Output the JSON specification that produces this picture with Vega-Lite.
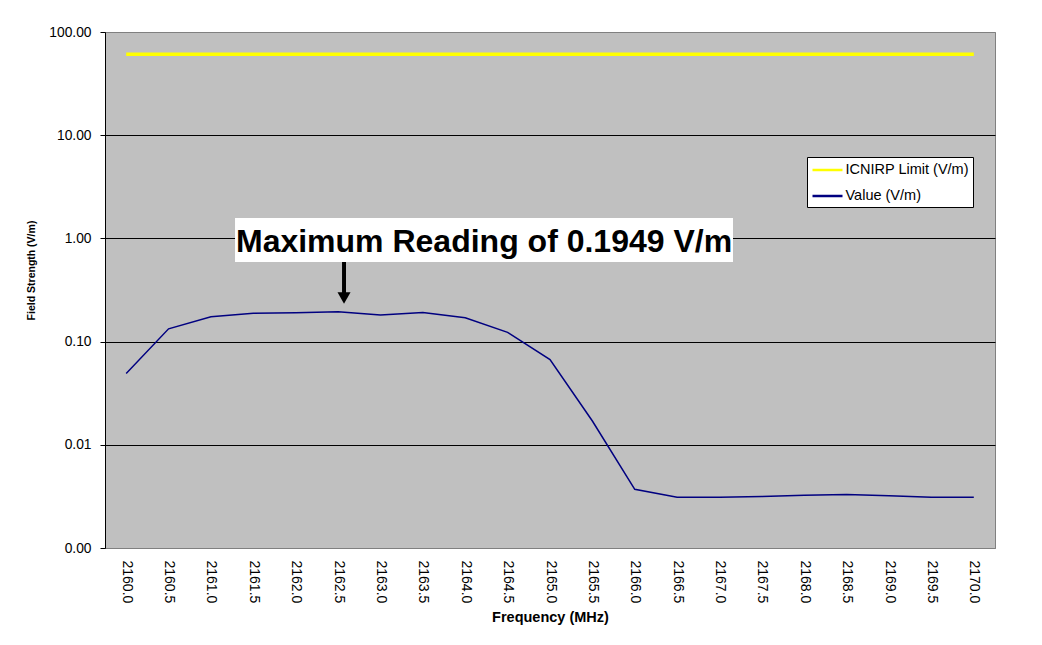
{
  "$schema": "https://vega.github.io/schema/vega-lite/v6.json",
  "width": 890,
  "height": 516,
  "autosize": {"type": "none"},
  "padding": {"left": 105, "top": 32, "right": 47, "bottom": 97},
  "background": "white",
  "config": {
    "view": {"fill": "#C0C0C0", "stroke": "#808080", "strokeWidth": 1},
    "font": "Liberation Sans"
  },
  "data": {
    "values": [
      {"freq": 2160.0, "value": 0.049, "limit": 61},
      {"freq": 2160.5, "value": 0.133, "limit": 61},
      {"freq": 2161.0, "value": 0.174, "limit": 61},
      {"freq": 2161.5, "value": 0.188, "limit": 61},
      {"freq": 2162.0, "value": 0.190, "limit": 61},
      {"freq": 2162.5, "value": 0.1949, "limit": 61},
      {"freq": 2163.0, "value": 0.181, "limit": 61},
      {"freq": 2163.5, "value": 0.191, "limit": 61},
      {"freq": 2164.0, "value": 0.170, "limit": 61},
      {"freq": 2164.5, "value": 0.123, "limit": 61},
      {"freq": 2165.0, "value": 0.067, "limit": 61},
      {"freq": 2165.5, "value": 0.017, "limit": 61},
      {"freq": 2166.0, "value": 0.0037, "limit": 61},
      {"freq": 2166.5, "value": 0.0031, "limit": 61},
      {"freq": 2167.0, "value": 0.0031, "limit": 61},
      {"freq": 2167.5, "value": 0.00315, "limit": 61},
      {"freq": 2168.0, "value": 0.00325, "limit": 61},
      {"freq": 2168.5, "value": 0.0033, "limit": 61},
      {"freq": 2169.0, "value": 0.0032, "limit": 61},
      {"freq": 2169.5, "value": 0.0031, "limit": 61},
      {"freq": 2170.0, "value": 0.0031, "limit": 61}
    ]
  },
  "layer": [
    {
      "mark": {"type": "line", "strokeWidth": 3.5},
      "encoding": {
        "x": {
          "field": "freq",
          "type": "quantitative",
          "scale": {"domain": [2159.75, 2170.25], "nice": false, "zero": false},
          "axis": {
            "values": [2160, 2160.5, 2161, 2161.5, 2162, 2162.5, 2163, 2163.5, 2164, 2164.5, 2165, 2165.5, 2166, 2166.5, 2167, 2167.5, 2168, 2168.5, 2169, 2169.5, 2170],
            "format": ".1f",
            "labelAngle": 90,
            "labelFontSize": 14,
            "labelColor": "black",
            "ticks": false,
            "tickSize": 0,
            "labelPadding": 12,
            "domainColor": "#808080",
            "grid": false,
            "title": "Frequency (MHz)",
            "titleFontSize": 14.5,
            "titleFontWeight": "bold",
            "titleColor": "black",
            "titleBaseline": "top",
            "titleY": 62
          }
        },
        "y": {
          "field": "limit",
          "type": "quantitative",
          "scale": {"type": "log", "domain": [0.001, 100], "nice": false},
          "axis": {
            "values": [0.001, 0.01, 0.1, 1, 10, 100],
            "format": ".2f",
            "labelFontSize": 13.8,
            "labelColor": "black",
            "tickColor": "black",
            "tickSize": 5,
            "labelPadding": 9,
            "domainColor": "black",
            "grid": true,
            "gridColor": {"condition": {"test": "datum.value >= 99 || datum.value <= 0.0011", "value": "#808080"}, "value": "black"},
            "gridOpacity": 1,
            "gridWidth": 1,
            "title": "Field Strength (V/m)",
            "titleFontSize": 10.5,
            "titleFontWeight": "bold",
            "titleColor": "black",
            "titleX": -69,
            "titleY": 238
          }
        },
        "color": {
          "datum": "ICNIRP Limit (V/m)",
          "scale": {"domain": ["ICNIRP Limit (V/m)", "Value (V/m)"], "range": ["#FFFF00", "#000080"]},
          "legend": {
            "title": null,
            "orient": "none",
            "legendX": 702,
            "legendY": 125,
            "fillColor": "white",
            "strokeColor": "black",
            "padding": 4,
            "symbolType": "M-2,0H2",
            "symbolSize": 225,
            "symbolOffset": 7.5,
            "symbolStrokeWidth": 2.5,
            "labelFontSize": 14.5,
            "labelColor": "black",
            "labelOffset": 9,
            "rowPadding": 10
          }
        }
      }
    },
    {
      "mark": {"type": "line", "strokeWidth": 1.5},
      "encoding": {
        "x": {"field": "freq", "type": "quantitative"},
        "y": {"field": "value", "type": "quantitative"},
        "color": {"datum": "Value (V/m)"}
      }
    },
    {
      "data": {"values": [{}]},
      "mark": {"type": "rect", "fill": "white"},
      "encoding": {
        "x": {"datum": 2161.284},
        "x2": {"datum": 2167.159},
        "y": {"datum": 1.578},
        "y2": {"datum": 0.5906}
      }
    },
    {
      "data": {"values": [{}]},
      "mark": {"type": "text", "text": "Maximum Reading of 0.1949 V/m", "fontSize": 32, "fontWeight": "bold", "baseline": "alphabetic", "align": "center", "color": "black"},
      "encoding": {
        "x": {"datum": 2164.222},
        "y": {"datum": 0.743}
      }
    },
    {
      "data": {"values": [{}]},
      "mark": {"type": "rule", "strokeWidth": 4, "color": "black"},
      "encoding": {
        "x": {"datum": 2162.57},
        "y": {"datum": 0.5906},
        "y2": {"datum": 0.2829}
      }
    },
    {
      "data": {"values": [{}]},
      "mark": {"type": "point", "shape": "triangle-down", "filled": true, "size": 170, "color": "black", "opacity": 1},
      "encoding": {
        "x": {"datum": 2162.57},
        "y": {"datum": 0.2646}
      }
    }
  ]
}
